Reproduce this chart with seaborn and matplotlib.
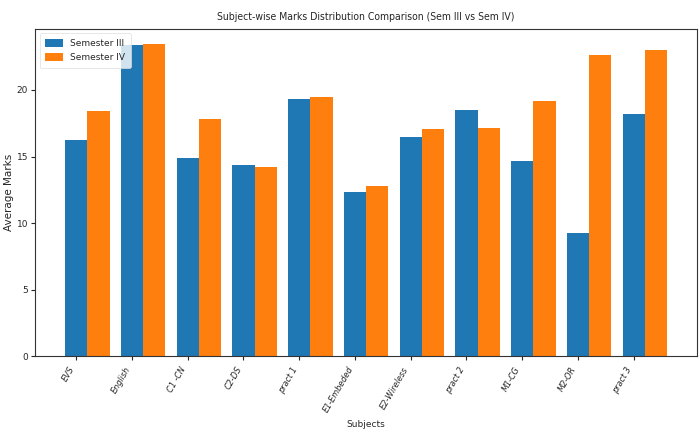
import numpy as np
import pandas as pd
import matplotlib
matplotlib.use("Agg")
import matplotlib.pyplot as plt
import seaborn as sns

subjects = ["EVS", "English", "C1 -CN", "C2-DS", "pract 1", "E1-Embeded",
            "E2-Wireless", "pract 2", "M1-CG", "M2-OR", "pract 3"]
sem3 = [16.26, 23.38, 14.92, 14.37, 19.32, 12.33, 16.44, 18.48, 14.67, 9.24, 18.16]
sem4 = [18.43, 23.43, 17.85, 14.24, 19.49, 12.80, 17.05, 17.15, 19.17, 22.65, 23.00]
series_names = ["Semester III", "Semester IV"]

df = pd.DataFrame({
    "Subject": subjects * 2,
    "Marks": sem3 + sem4,
    "Semester": [series_names[0]] * len(subjects) + [series_names[1]] * len(subjects),
})

sns.set_style("ticks")
plt.rcParams["font.family"] = ["DejaVu Sans"]

fig = plt.figure(figsize=(7, 4.3), dpi=100)
ax = fig.add_axes([0.05, 0.172, 0.946, 0.761])

sns.barplot(data=df, x="Subject", y="Marks", hue="Semester",
            palette=["#1f77b4", "#ff7f0e"], width=0.8, ax=ax,
            errorbar=None, saturation=1, edgecolor="none")

n = len(subjects)
ax.set_xticks(np.arange(n) - 0.2)
ax.set_xticklabels(subjects, rotation=60, ha="right", fontsize=6.5,
                   fontstyle="italic", fontstretch="condensed")
ax.set_xlim(-0.94, n - 1 + 0.94)
ax.set_ylim(0, 24.6)
ax.set_yticks([0, 5, 10, 15, 20])
ax.tick_params(axis="y", labelsize=6.5, length=3, pad=2)
ax.tick_params(axis="x", length=3)
for s in ax.spines.values():
    s.set_visible(True)
    s.set_linewidth(0.8)
    s.set_color("#333333")

ax.set_title("Subject-wise Marks Distribution Comparison (Sem III vs Sem IV)",
             fontsize=7.5, pad=6, fontstretch="condensed")
ax.set_xlabel("Subjects", fontsize=6.5, labelpad=4)
ax.set_ylabel("Average Marks", fontsize=7.5)
ax.yaxis.set_label_coords(-0.032, 0.5)

leg = ax.legend(loc="upper left", fontsize=6.5, frameon=True,
                handlelength=2.0, handleheight=1.0, borderpad=0.6,
                labelspacing=0.6)
leg.get_frame().set_edgecolor("#dddddd")
leg.get_frame().set_linewidth(0.6)

fig.savefig("out.png", dpi=100)
